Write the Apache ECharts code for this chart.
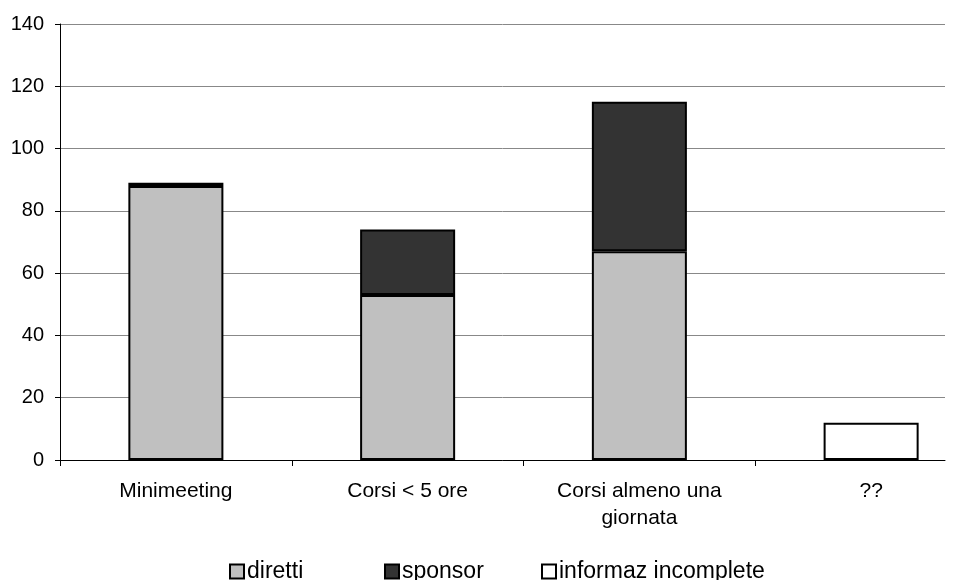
<!DOCTYPE html>
<html>
<head>
<meta charset="utf-8">
<script src="https://cdn.jsdelivr.net/npm/echarts@6/dist/echarts.min.js"></script>
<style>
  html, body { margin: 0; padding: 0; background: #fff; overflow: hidden; }
  #frame { width: 973px; height: 580px; overflow: hidden; position: relative; }
  /* the drawing surface runs past the right edge so the last category slot can extend beyond the frame */
  #chart { width: 1020px; height: 580px; position: absolute; left: 0; top: 0; }
</style>
</head>
<body>
<div id="frame"><div id="chart"></div></div>
<script>
// Course types and participant counts
const categories = ['Minimeeting', 'Corsi < 5 ore', 'Corsi almeno una\ngiornata', '??'];
const diretti = [88, 53, 67, '-'];
const sponsor = [1, 21, 48, '-'];
const informazIncomplete = ['-', '-', '-', 12];
const yTicks = { min: 0, max: 140, interval: 20 };

const FONT = 'Liberation Sans, Arial, sans-serif';
const FS = 20;

const chart = echarts.init(document.getElementById('chart'), null, { renderer: 'canvas' });

function barSeries(name, data, color) {
  return {
    name: name,
    type: 'bar',
    stack: 'total',
    xAxisIndex: 0,
    yAxisIndex: 0,
    data: data,
    barWidth: '41%',
    itemStyle: { color: color, borderColor: '#000', borderWidth: 2 },
    emphasis: { disabled: true }
  };
}

function legendAt(name, left) {
  return {
    data: [name],
    left: left,
    top: 555,
    itemWidth: 14,
    itemHeight: 14,
    itemGap: 4,
    icon: 'rect',
    textStyle: { fontFamily: FONT, fontSize: 23, color: '#000', padding: [0, 0, 0, -2] }
  };
}

chart.setOption({
  animation: false,
  backgroundColor: '#fff',
  // grid 0: category slots and bars; grid 1: value axis frame and gridlines
  grid: [
    { left: 60, width: 927, top: 24, bottom: 120, containLabel: false },
    { left: 60, width: 885, top: 24, bottom: 120, containLabel: false }
  ],
  legend: [
    legendAt('diretti', 224),
    legendAt('sponsor', 379),
    legendAt('informaz incomplete', 536)
  ],
  xAxis: [
    {
      type: 'category',
      gridIndex: 0,
      data: categories,
      axisLine: { show: false },
      axisTick: { show: true, alignWithLabel: false, length: 6, lineStyle: { color: '#000' } },
      axisLabel: { fontFamily: FONT, fontSize: 21, color: '#000', margin: 18, lineHeight: 27, interval: 0 }
    },
    {
      type: 'category',
      gridIndex: 1,
      data: [''],
      axisLine: { show: true, lineStyle: { color: '#000', width: 1 } },
      axisTick: { show: false },
      axisLabel: { show: false }
    }
  ],
  yAxis: [
    {
      type: 'value',
      gridIndex: 0,
      min: yTicks.min,
      max: yTicks.max,
      interval: yTicks.interval,
      show: false
    },
    {
      type: 'value',
      gridIndex: 1,
      min: yTicks.min,
      max: yTicks.max,
      interval: yTicks.interval,
      axisLine: { show: true, lineStyle: { color: '#000', width: 1 } },
      axisTick: { show: true, length: 5, lineStyle: { color: '#000' } },
      axisLabel: { fontFamily: FONT, fontSize: FS, color: '#000', margin: 16 },
      splitLine: { show: true, lineStyle: { color: '#888', width: 1 } }
    }
  ],
  series: [
    barSeries('diretti', diretti, '#c0c0c0'),
    barSeries('sponsor', sponsor, '#333333'),
    barSeries('informaz incomplete', informazIncomplete, '#ffffff')
  ]
});
</script>
</body>
</html>
